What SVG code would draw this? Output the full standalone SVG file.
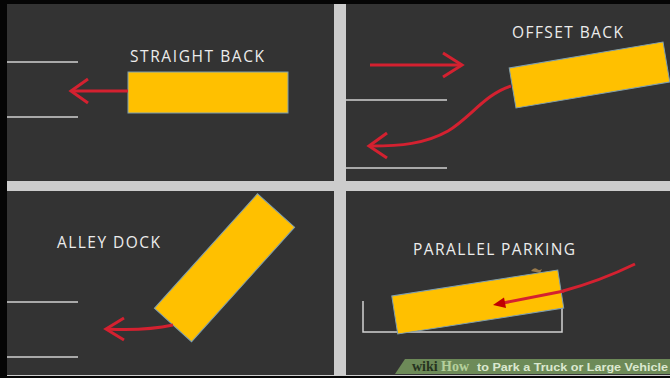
<svg xmlns="http://www.w3.org/2000/svg" width="670" height="378" viewBox="0 0 670 378">
<style>
.panel{fill:#333333}
.lane{stroke:#d2d2d2;stroke-width:1.5;fill:none}
.truck{fill:#FFC000;stroke:#7f9fb0;stroke-width:1}
.lbl{font-family:"Open Sans","DejaVu Sans",sans-serif;font-size:15.5px;fill:#ececec}
.arr{stroke:#d42130;stroke-width:3;fill:none;stroke-linejoin:miter}
</style>
<rect x="0" y="0" width="670" height="378" fill="#050505"/>
<rect x="7" y="4" width="663" height="372" fill="#cccccc"/>
<rect class="panel" x="7" y="4" width="327" height="177"/>
<rect class="panel" x="346" y="4" width="324" height="177"/>
<rect class="panel" x="7" y="191" width="327" height="184"/>
<rect class="panel" x="346" y="191" width="324" height="184"/>

<g id="lanes">
<line class="lane" x1="7" y1="62" x2="78" y2="62"/>
<line class="lane" x1="7" y1="117" x2="78" y2="117"/>
<line class="lane" x1="346" y1="100" x2="447" y2="100"/>
<line class="lane" x1="346" y1="168" x2="447" y2="168"/>
<line class="lane" x1="7" y1="302" x2="78" y2="302"/>
<line class="lane" x1="7" y1="357" x2="78" y2="357"/>
<path class="lane" d="M363,301 L363,332 L562,332 L562,306" stroke-width="2"/>
</g>

<g id="straight-back">
<text class="lbl" x="130" y="62" textLength="134" lengthAdjust="spacing">STRAIGHT BACK</text>
<rect class="truck" x="128" y="72" width="160" height="41"/>
</g>

<g id="offset-back">
<text class="lbl" x="512" y="38" textLength="111" lengthAdjust="spacing">OFFSET BACK</text>
<rect class="truck" x="-78" y="-20.3" width="156" height="40.6" transform="translate(589.5,75) rotate(-9.6)"/>
</g>

<g id="alley-dock">
<text class="lbl" x="57" y="248" textLength="103" lengthAdjust="spacing">ALLEY DOCK</text>
<rect class="truck" x="-77" y="-25" width="154" height="50" transform="translate(224.5,267.75) rotate(-48)"/>
</g>

<g id="parallel-parking">
<text class="lbl" x="413" y="255" textLength="162" lengthAdjust="spacing">PARALLEL PARKING</text>
<path d="M531,271 q3,-4 6,-2 q2,2 5,0 l-2,4 z" fill="#9a7a4a"/>
<rect class="truck" x="-84" y="-19.25" width="168" height="38.5" transform="translate(477.75,302) rotate(-8.9)"/>
</g>

<g id="connectors">
<path class="arr" d="M128,91 L72,91"/>
<path class="arr" d="M88,79 L71,91 L88,103"/>
<path class="arr" d="M370,65 L461,65"/>
<path class="arr" d="M443,53 L462,65 L443,77"/>
<path class="arr" d="M511,86 C485,94 470,118 448,131 C425,144 400,146 371,146"/>
<path class="arr" d="M387,133 L369,146 L387,158"/>
<path class="arr" d="M173,325 Q145,331 107,329"/>
<path class="arr" d="M124,318 L106,329 L124,340"/>
<path class="arr" d="M635,264 Q600,281 563,291" stroke="#d42a3c"/>
<path class="arr" d="M564,291 L503,303" stroke="#c00000"/>
<polygon points="493,305 504,297.5 506,308" fill="#c00000"/>
</g>

<g id="wikihow-banner">
<polygon points="395,374 405,359 670,359 670,374" fill="#6d8a58"/>
<text y="371" font-weight="bold"><tspan x="412" font-size="14" font-family="'Liberation Serif',serif" fill="#26331f">wiki</tspan><tspan x="441" font-size="14" font-family="'Liberation Serif',serif" fill="#b5d09c">How</tspan><tspan x="477" font-size="11.5" font-family="'Liberation Sans',sans-serif" fill="#dbe8cf" textLength="191" lengthAdjust="spacingAndGlyphs">to Park a Truck or Large Vehicle</tspan></text>
</g>
</svg>
